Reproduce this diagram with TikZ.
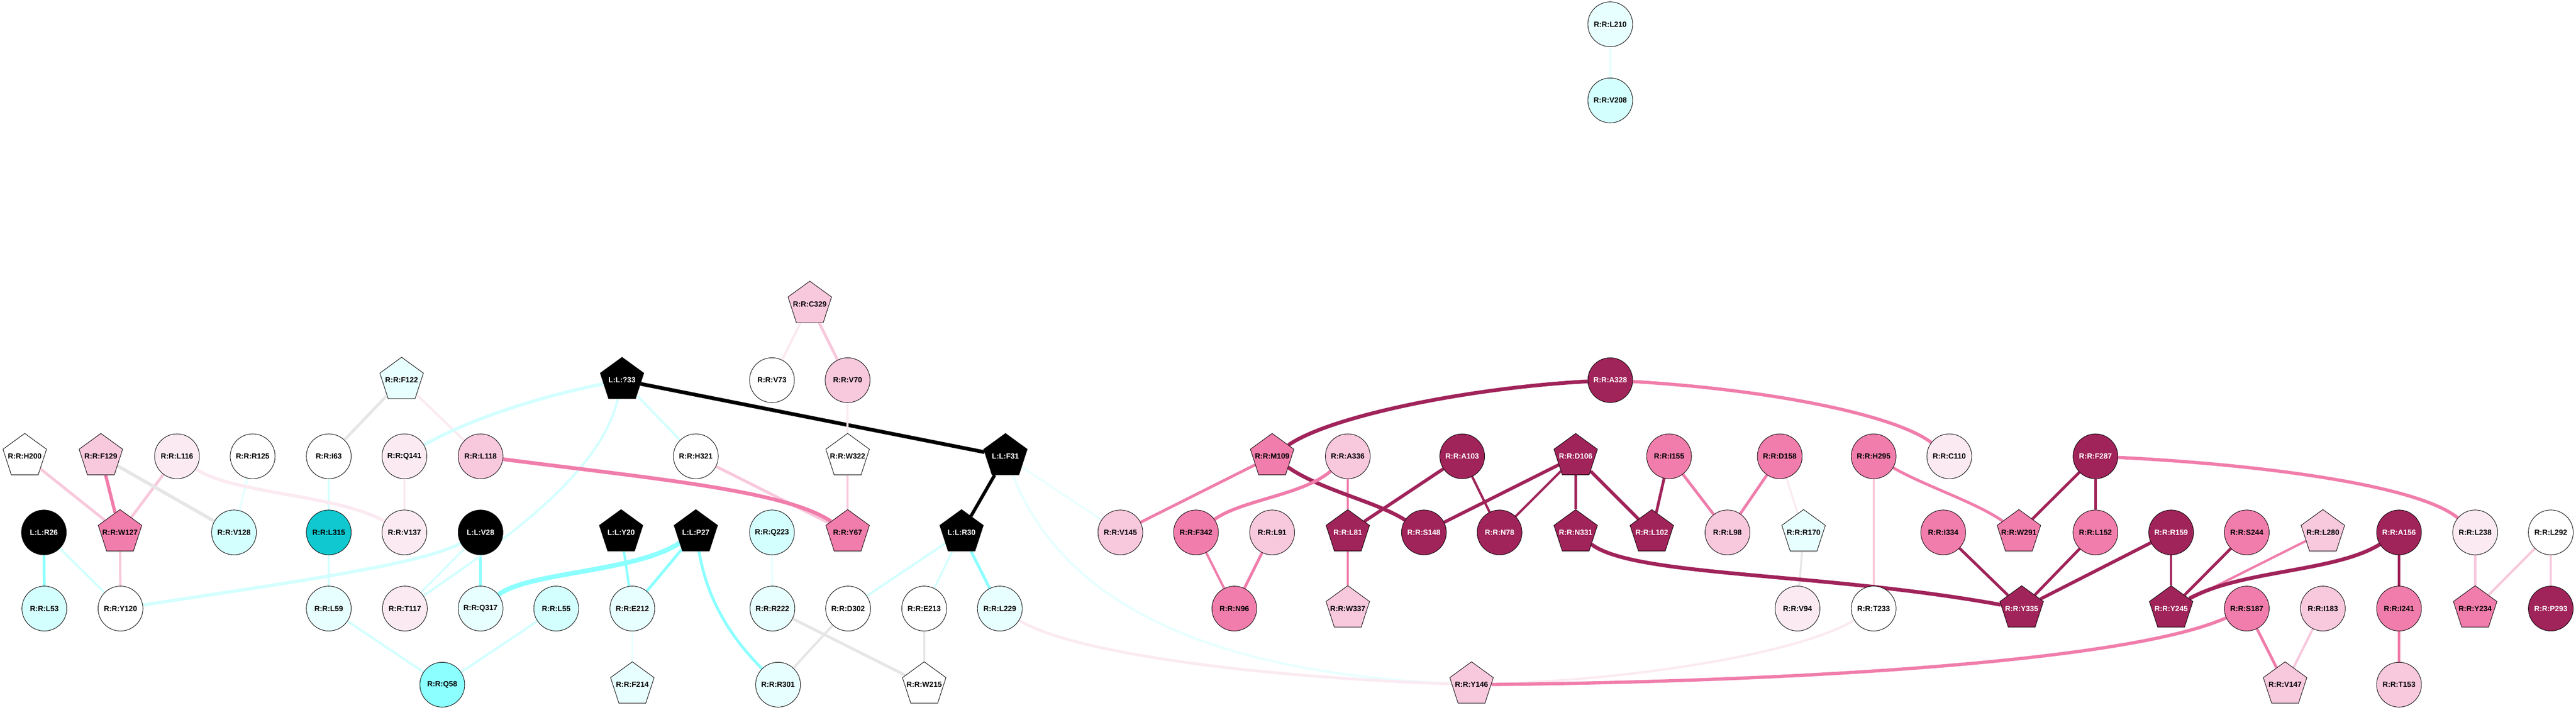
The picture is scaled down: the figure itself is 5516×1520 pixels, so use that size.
\documentclass[tikz,border=0pt]{standalone}
\usepackage{fontspec}
\setmainfont{Liberation Sans}
\usetikzlibrary{shapes.geometric}
\definecolor{kd}{RGB}{160,35,90}
\definecolor{km}{RGB}{240,125,171}
\definecolor{kl}{RGB}{248,200,220}
\definecolor{kv}{RGB}{251,234,242}
\definecolor{kt}{RGB}{16,200,208}
\definecolor{kb}{RGB}{140,255,255}
\definecolor{kc}{RGB}{212,255,255}
\definecolor{ke}{RGB}{232,255,255}
\definecolor{kg}{RGB}{230,230,230}
\newcommand{\zl}[1]{\makebox[0pt][c]{#1}}
\pgfdeclarelayer{bgl}
\pgfdeclarelayer{edgelayer}
\pgfsetlayers{bgl,edgelayer,main}
\begin{document}
\begin{tikzpicture}[x=0.5pt,y=-0.5pt,
  nd/.style={draw=black,line width=0.5pt,inner sep=0pt,font=\fontsize{8}{9}\selectfont\bfseries},
  cn/.style={nd,circle,minimum size=48pt},
  pn/.style={nd,regular polygon,regular polygon sides=5,minimum size=49pt},
  fk/.style={fill=black,text=white},
  fd/.style={fill=kd,text=white},
  fm/.style={fill=km},
  fl/.style={fill=kl},
  fv/.style={fill=kv},
  fw/.style={fill=white},
  ft/.style={fill=kt},
  fb/.style={fill=kb},
  fc/.style={fill=kc},
  fe/.style={fill=ke},
  w4/.style={line width=2pt}, w5/.style={line width=2.5pt}, w6/.style={line width=3pt},
  w7/.style={line width=3.5pt}, w8/.style={line width=4pt}, w10/.style={line width=5pt}]
\begin{pgfonlayer}{bgl}
\useasboundingbox (0,0) rectangle (5516,1520);
\fill[white] (0,0) rectangle (5516,1520);
\end{pgfonlayer}
% top component
\node[cn,fe] (L210) at (3448,52) {R:R:L210};
\node[cn,fc] (V208) at (3448,215) {R:R:V208};
% row 651
\node[pn,fl] (C329) at (1734,651) {\zl{R:R:C329}};
% row 814
\node[pn,fe] (F122) at (860,814) {\zl{R:R:F122}};
\node[pn,fk] (Q33) at (1332,814) {\zl{L:L:?33}};
\node[cn,fw] (V73) at (1653,814) {R:R:V73};
\node[cn,fl] (V70) at (1815,814) {R:R:V70};
\node[cn,fd] (A328) at (3448,814) {R:R:A328};
% row 977
\node[pn,fw] (H200) at (53,977) {\zl{R:R:H200}};
\node[pn,fl] (F129) at (216,977) {\zl{R:R:F129}};
\node[cn,fv] (L116) at (379,977) {R:R:L116};
\node[cn,fw] (R125) at (541,977) {R:R:R125};
\node[cn,fw] (I63) at (704,977) {R:R:I63};
\node[cn,fv] (Q141) at (866,977) {R:R:Q141};
\node[cn,fl] (L118) at (1029,977) {R:R:L118};
\node[cn,fw] (H321) at (1490,977) {R:R:H321};
\node[pn,fw] (W322) at (1815,977) {\zl{R:R:W322}};
\node[pn,fk] (F31) at (2153,977) {\zl{L:L:F31}};
\node[pn,fm] (M109) at (2724,977) {\zl{R:R:M109}};
\node[cn,fl] (A336) at (2886,977) {R:R:A336};
\node[cn,fd] (A103) at (3131,977) {R:R:A103};
\node[pn,fd] (D106) at (3374,977) {\zl{R:R:D106}};
\node[cn,fm] (I155) at (3574,977) {R:R:I155};
\node[cn,fm] (D158) at (3811,977) {R:R:D158};
\node[cn,fm] (H295) at (4012,977) {R:R:H295};
\node[cn,fv] (C110) at (4174,977) {R:R:C110};
\node[cn,fd] (F287) at (4487,977) {R:R:F287};
% row 1140
\node[cn,fk] (R26) at (94,1140) {L:L:R26};
\node[pn,fm] (W127) at (257,1140) {\zl{R:R:W127}};
\node[cn,fc] (V128) at (501,1140) {R:R:V128};
\node[cn,ft] (L315) at (704,1140) {R:R:L315};
\node[cn,fv] (V137) at (866,1140) {R:R:V137};
\node[cn,fk] (V28) at (1029,1140) {L:L:V28};
\node[pn,fk] (Y20) at (1330,1140) {\zl{L:L:Y20}};
\node[pn,fk] (P27) at (1490,1140) {\zl{L:L:P27}};
\node[cn,fc] (Q223) at (1653,1140) {R:R:Q223};
\node[pn,fm] (Y67) at (1815,1140) {\zl{R:R:Y67}};
\node[pn,fk] (R30) at (2059,1140) {\zl{L:L:R30}};
\node[cn,fl] (V145) at (2399,1140) {R:R:V145};
\node[cn,fm] (F342) at (2561,1140) {R:R:F342};
\node[cn,fl] (L91) at (2724,1140) {R:R:L91};
\node[pn,fd] (L81) at (2886,1140) {\zl{R:R:L81}};
\node[cn,fd] (S148) at (3049,1140) {R:R:S148};
\node[cn,fd] (N78) at (3211,1140) {R:R:N78};
\node[pn,fd] (N331) at (3374,1140) {\zl{R:R:N331}};
\node[pn,fd] (L102) at (3537,1140) {\zl{R:R:L102}};
\node[cn,fl] (L98) at (3699,1140) {R:R:L98};
\node[pn,fe] (R170) at (3862,1140) {\zl{R:R:R170}};
\node[cn,fm] (I334) at (4161,1140) {R:R:I334};
\node[pn,fm] (W291) at (4323,1140) {\zl{R:R:W291}};
\node[cn,fm] (L152) at (4487,1140) {R:R:L152};
\node[cn,fd] (R159) at (4649,1140) {R:R:R159};
\node[cn,fm] (S244) at (4811,1140) {R:R:S244};
\node[pn,fl] (L280) at (4974,1140) {\zl{R:R:L280}};
\node[cn,fd] (A156) at (5137,1140) {R:R:A156};
\node[cn,fv] (L238) at (5300,1140) {R:R:L238};
\node[cn,fw] (L292) at (5462,1140) {R:R:L292};
% row 1303
\node[cn,fc] (L53) at (95,1303) {R:R:L53};
\node[cn,fw] (Y120) at (258,1303) {R:R:Y120};
\node[cn,fe] (L59) at (704,1303) {R:R:L59};
\node[cn,fv] (T117) at (867,1303) {R:R:T117};
\node[cn,fe] (Q317) at (1029,1303) {R:R:Q317};
\node[cn,fc] (L55) at (1191,1303) {R:R:L55};
\node[cn,fe] (E212) at (1354,1303) {R:R:E212};
\node[cn,fe] (R222) at (1654,1303) {R:R:R222};
\node[cn,fw] (D302) at (1816,1303) {R:R:D302};
\node[cn,fw] (E213) at (1979,1303) {R:R:E213};
\node[cn,fe] (L229) at (2141,1303) {R:R:L229};
\node[cn,fm] (N96) at (2643,1303) {R:R:N96};
\node[pn,fl] (W337) at (2886,1303) {\zl{R:R:W337}};
\node[cn,fv] (V94) at (3849,1303) {R:R:V94};
\node[cn,fw] (T233) at (4012,1303) {R:R:T233};
\node[pn,fd] (Y335) at (4329,1303) {\zl{R:R:Y335}};
\node[pn,fd] (Y245) at (4649,1303) {\zl{R:R:Y245}};
\node[cn,fm] (S187) at (4811,1303) {R:R:S187};
\node[cn,fl] (I183) at (4974,1303) {R:R:I183};
\node[cn,fm] (I241) at (5137,1303) {R:R:I241};
\node[pn,fm] (Y234) at (5300,1303) {\zl{R:R:Y234}};
\node[cn,fd] (P293) at (5462,1303) {R:R:P293};
% row 1466
\node[cn,fb] (Q58) at (947,1466) {R:R:Q58};
\node[pn,fe] (F214) at (1354,1466) {\zl{R:R:F214}};
\node[cn,fe] (R301) at (1666,1466) {R:R:R301};
\node[pn,fw] (W215) at (1979,1466) {\zl{R:R:W215}};
\node[pn,fl] (Y146) at (3151,1466) {\zl{R:R:Y146}};
\node[pn,fl] (V147) at (4893,1466) {\zl{R:R:V147}};
\node[cn,fl] (T153) at (5137,1466) {R:R:T153};

\begin{pgfonlayer}{edgelayer}
\draw[kl,w6] (H200) -- (W127);
\draw[km,w7] (F129) -- (W127);
\draw[kl,w6] (L116) -- (W127);
\draw[kg,w7] (F129) -- (V128);
\draw[ke,w5] (R125) -- (V128);
\draw[kl,w5] (W127) -- (Y120);
\draw[kb,w6] (R26) -- (L53);
\draw[kc,w5] (R26) -- (Y120);
\draw[kc,w5] (I63) -- (L315);
\draw[kg,w6] (I63) -- (F122);
\draw[kv,w5] (F122) -- (L118);
\draw[kv,w5] (Q141) -- (V137);
\draw[kc,w5] (L315) -- (L59);
\draw[kc,w4] (V28) -- (T117);
\draw[kb,w5] (V28) -- (Q317);
\draw[kc,w5] (L59) -- (Q58);
\draw[kc,w5] (Q58) -- (L55);
\draw[kb,w5] (Y20) -- (E212);
\draw[kb,w6] (P27) -- (E212);
\draw[kc,w5] (Q33) -- (H321);
\draw[black,w8] (Q33) -- (F31);
\draw[kv,w5] (C329) -- (V73);
\draw[kl,w6] (C329) -- (V70);
\draw[kv,w5] (V70) -- (W322);
\draw[kl,w5] (W322) -- (Y67);
\draw[kl,w6] (H321) -- (Y67);
\draw[black,w7] (F31) -- (R30);
\draw[ke,w4] (F31) -- (V145);
\draw[ke,w4] (Q223) -- (R222);
\draw[kc,w5] (R30) -- (D302);
\draw[kc,w4] (R30) -- (E213);
\draw[kb,w6] (R30) -- (L229);
\draw[ke,w4] (E212) -- (F214);
\draw[kg,w6] (R222) -- (W215);
\draw[kg,w5] (D302) -- (R301);
\draw[kg,w5] (E213) -- (W215);
\draw[km,w6] (M109) -- (V145);
\draw[km,w5] (A336) -- (L81);
\draw[km,w5] (F342) -- (N96);
\draw[km,w6] (L91) -- (N96);
\draw[km,w5] (L81) -- (W337);
\draw[kd,w7] (A103) -- (L81);
\draw[kd,w5] (A103) -- (N78);
\draw[kd,w7] (D106) -- (S148);
\draw[kd,w5] (D106) -- (N78);
\draw[kd,w5] (D106) -- (N331);
\draw[kd,w7] (D106) -- (L102);
\draw[kd,w6] (I155) -- (L102);
\draw[km,w6] (I155) -- (L98);
\draw[km,w6] (D158) -- (L98);
\draw[kv,w4] (D158) -- (R170);
\draw[kg,w4] (R170) -- (V94);
\draw[kl,w4] (H295) -- (T233);
\draw[kd,w6] (I334) -- (Y335);
\draw[kd,w6] (L152) -- (Y335);
\draw[kd,w7] (R159) -- (Y335);
\draw[kd,w6] (F287) -- (W291);
\draw[kd,w5] (F287) -- (L152);
\draw[kd,w5] (R159) -- (Y245);
\draw[kd,w6] (S244) -- (Y245);
\draw[km,w5] (L280) -- (Y245);
\draw[kd,w6] (A156) -- (I241);
\draw[km,w6] (I241) -- (T153);
\draw[km,w6] (S187) -- (V147);
\draw[kl,w5] (I183) -- (V147);
\draw[kl,w5] (L238) -- (Y234);
\draw[kl,w5] (L292) -- (Y234);
\draw[kl,w5] (L292) -- (P293);
\draw[ke,w5] (L210) -- (V208);
% curved connectors
\draw[kv,w7] (L116) .. controls (500,1058) and (720,1058) .. (V137);
\draw[kc,w7] (Y120) .. controls (600,1250) and (900,1210) .. (V28);
\draw[kc,w7] (Q141) .. controls (1000,900) and (1150,850) .. (Q33);
\draw[kc,w5] (Q33) .. controls (1285,1020) and (1060,1170) .. (T117);
\draw[km,w8] (L118) .. controls (1400,1025) and (1680,1050) .. (Y67);
\draw[kb,w10] (P27) .. controls (1360,1225) and (1130,1225) .. (Q317);
\draw[kb,w6] (P27) .. controls (1515,1290) and (1570,1370) .. (R301);
\draw[ke,w5] (F31) .. controls (2280,1300) and (2600,1440) .. (Y146);
\draw[kv,w6] (L229) .. controls (2300,1400) and (2700,1450) .. (Y146);
\draw[kv,w5] (T233) .. controls (3850,1400) and (3500,1455) .. (Y146);
\draw[km,w7] (S187) .. controls (4550,1420) and (3800,1460) .. (Y146);
\draw[kd,w8] (A328) .. controls (3150,830) and (2850,890) .. (M109);
\draw[km,w7] (A328) .. controls (3800,835) and (4060,890) .. (C110);
\draw[kd,w8] (M109) .. controls (2830,1050) and (2950,1075) .. (S148);
\draw[km,w7] (A336) .. controls (2790,1060) and (2660,1070) .. (F342);
\draw[km,w6] (H295) .. controls (4120,1040) and (4230,1075) .. (W291);
\draw[kd,w8] (N331) .. controls (3500,1235) and (3900,1225) .. (Y335);
\draw[km,w7] (F287) .. controls (4850,995) and (5180,1040) .. (L238);
\draw[kd,w8] (A156) .. controls (5000,1225) and (4800,1220) .. (Y245);
\end{pgfonlayer}
\end{tikzpicture}
\end{document}
